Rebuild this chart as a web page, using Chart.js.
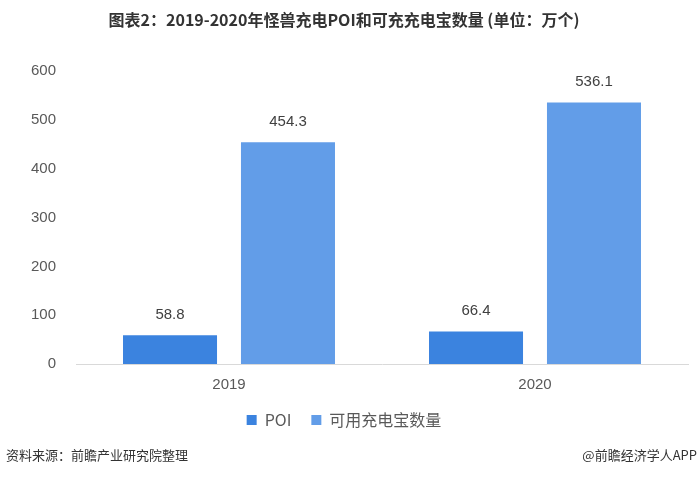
<!DOCTYPE html>
<html><head><meta charset="utf-8">
<script src="https://cdn.jsdelivr.net/npm/chart.js@4"></script>
<style>html,body{margin:0;padding:0;background:#fff;}#wrap{width:700px;height:477px;position:relative;}</style>
</head><body><div id="wrap"><canvas id="c" width="700" height="477"></canvas></div>
<script>
const categories = ['2019', '2020'];
const poiValues = [58.8, 66.4];
const powerBankValues = [454.3, 536.1];
const seriesNames = ['POI', '可用充电宝数量'];
const yTicks = [0, 100, 200, 300, 400, 500, 600];
const titleText = '图表2：2019-2020年怪兽充电POI和可充充电宝数量 (单位：万个)';
const sourceText = '资料来源：前瞻产业研究院整理';
const brandText = '@前瞻经济学人APP';

const numFont = "'Liberation Sans', Arial, sans-serif";
const cjkFont = "'Noto Sans CJK SC', 'Liberation Sans', sans-serif";

const valueLabels = {
  id: 'valueLabels',
  afterDatasetsDraw(chart) {
    const ctx = chart.ctx;
    ctx.save();
    ctx.font = '15px ' + numFont;
    ctx.fillStyle = '#404040';
    ctx.textAlign = 'center';
    ctx.textBaseline = 'bottom';
    chart.data.datasets.forEach((ds, i) => {
      chart.getDatasetMeta(i).data.forEach((el, j) => {
        ctx.fillText(ds.data[j].toFixed(1), el.x, el.y - 13);
      });
    });
    ctx.restore();
  }
};
const footer = {
  id: 'footer',
  afterDraw(chart) {
    const ctx = chart.ctx;
    ctx.save();
    ctx.font = '13px ' + cjkFont;
    ctx.fillStyle = '#333';
    ctx.textBaseline = 'middle';
    ctx.textAlign = 'left';
    ctx.fillText(sourceText, 6, 455);
    ctx.textAlign = 'right';
    ctx.fillText(brandText, 697, 455);
    ctx.restore();
  }
};

new Chart(document.getElementById('c'), {
  type: 'bar',
  data: {
    labels: categories,
    datasets: [
      { label: seriesNames[0], data: poiValues, backgroundColor: '#3b83df', categoryPercentage: 0.771, barPercentage: 0.797 },
      { label: seriesNames[1], data: powerBankValues, backgroundColor: '#629de8', categoryPercentage: 0.771, barPercentage: 0.797 }
    ]
  },
  options: {
    responsive: false,
    animation: false,
    layout: { padding: { left: 0, right: 12, top: 0, bottom: 39 } },
    plugins: {
      title: {
        display: true, text: titleText,
        font: { family: cjkFont, size: 16, weight: 'bold' }, color: '#333',
        padding: { top: 10, bottom: 42 }
      },
      legend: {
        position: 'bottom',
        labels: {
          boxWidth: 10, boxHeight: 10, padding: 20,
          font: { family: cjkFont, size: 16 }, color: '#595959'
        }
      },
      tooltip: { enabled: false }
    },
    scales: {
      x: {
        grid: { display: false, drawTicks: false },
        border: { display: true, color: '#d9d9d9', width: 1 },
        ticks: { font: { family: numFont, size: 15 }, color: '#595959', padding: 12 },
        afterFit(s) { s.height = 28; }
      },
      y: {
        min: 0, max: 600,
        afterBuildTicks(s) { s.ticks = yTicks.map(v => ({ value: v })); },
        grid: { display: false, drawTicks: false },
        border: { display: false },
        ticks: { font: { family: numFont, size: 15 }, color: '#595959', padding: 20 },
        afterFit(s) { s.width = 76; }
      }
    }
  },
  plugins: [valueLabels, footer]
});
</script></body></html>
